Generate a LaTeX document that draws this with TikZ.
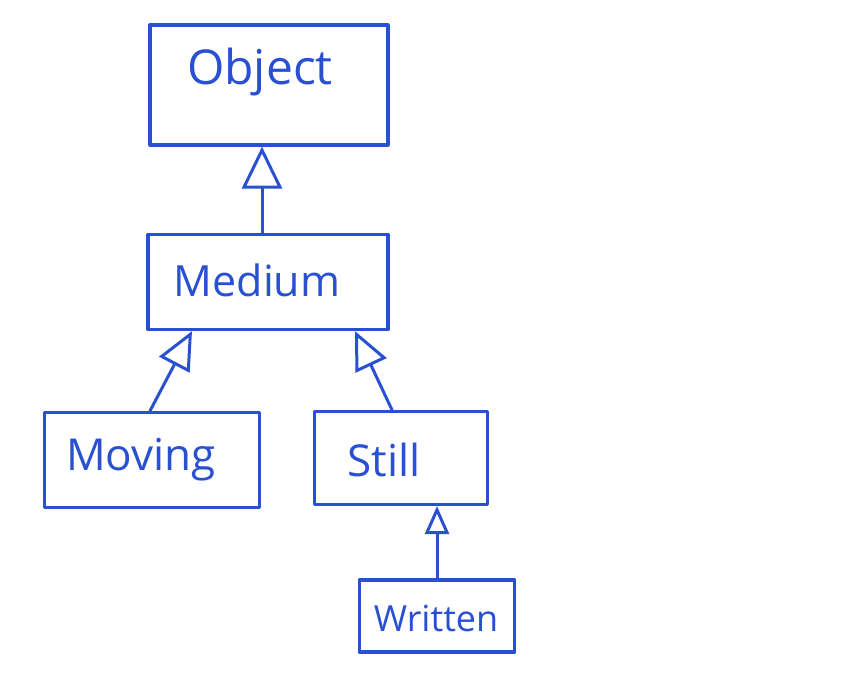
\documentclass[tikz,border=0pt]{standalone}
\usepackage{fontspec}
\setmainfont{Open Sans}
\usetikzlibrary{arrows.meta}
\definecolor{ink}{HTML}{2A50D2}
\begin{document}
\begin{tikzpicture}[x=1pt,y=-1pt,
  box/.style={draw=ink, line width=3.2pt, text=ink, inner sep=0pt, line join=round},
  lbl/.style={text=ink, inner sep=0pt},
  inhb/.style={draw=ink, line width=3pt, line cap=round, -{Triangle[open, width=40pt, length=42pt, line width=3pt]}},
  inh/.style={draw=ink, line width=3pt, line cap=round, -{Triangle[open, width=34pt, length=38pt, line width=3pt]}},
  inhs/.style={draw=ink, line width=3pt, line cap=round, -{Triangle[open, width=24pt, length=28pt, line width=3pt]}}
]
\useasboundingbox (0,0) rectangle (860,675);
\node[box, minimum width=238pt, minimum height=120pt] (obj) at (269,85) {};
\node[lbl, font=\fontsize{48}{52}\selectfont] (objt) at (260,72) {Object};
\node[box, minimum width=240pt, minimum height=95pt] (med) at (268,282) {};
\node[lbl, font=\fontsize{43}{48}\selectfont] (medt) at (257,280) {Medium};
\node[box, minimum width=215pt, minimum height=95pt] (mov) at (152,460) {};
\node[lbl, font=\fontsize{44}{48}\selectfont] (movt) at (141,460) {Moving};
\node[box, minimum width=173pt, minimum height=93pt] (sti) at (401,458) {};
\node[lbl, font=\fontsize{44}{48}\selectfont] (stit) at (384,460) {Still};
\node[box, minimum width=155pt, minimum height=72pt] (wri) at (437,616) {};
\node[lbl, font=\fontsize{36}{40}\selectfont] (writ) at (436,618) {Written};
\draw[inhb] ([xshift=-6pt]med.north) -- ([xshift=-7pt]obj.south);
\draw[inh] ([xshift=-2pt]mov.north) -- ([xshift=-76pt]med.south);
\draw[inh] ([xshift=-9pt]sti.north) -- ([xshift=87pt]med.south);
\draw[inhs] (wri.north) -- (sti.south -| wri.north);
\end{tikzpicture}
\end{document}
